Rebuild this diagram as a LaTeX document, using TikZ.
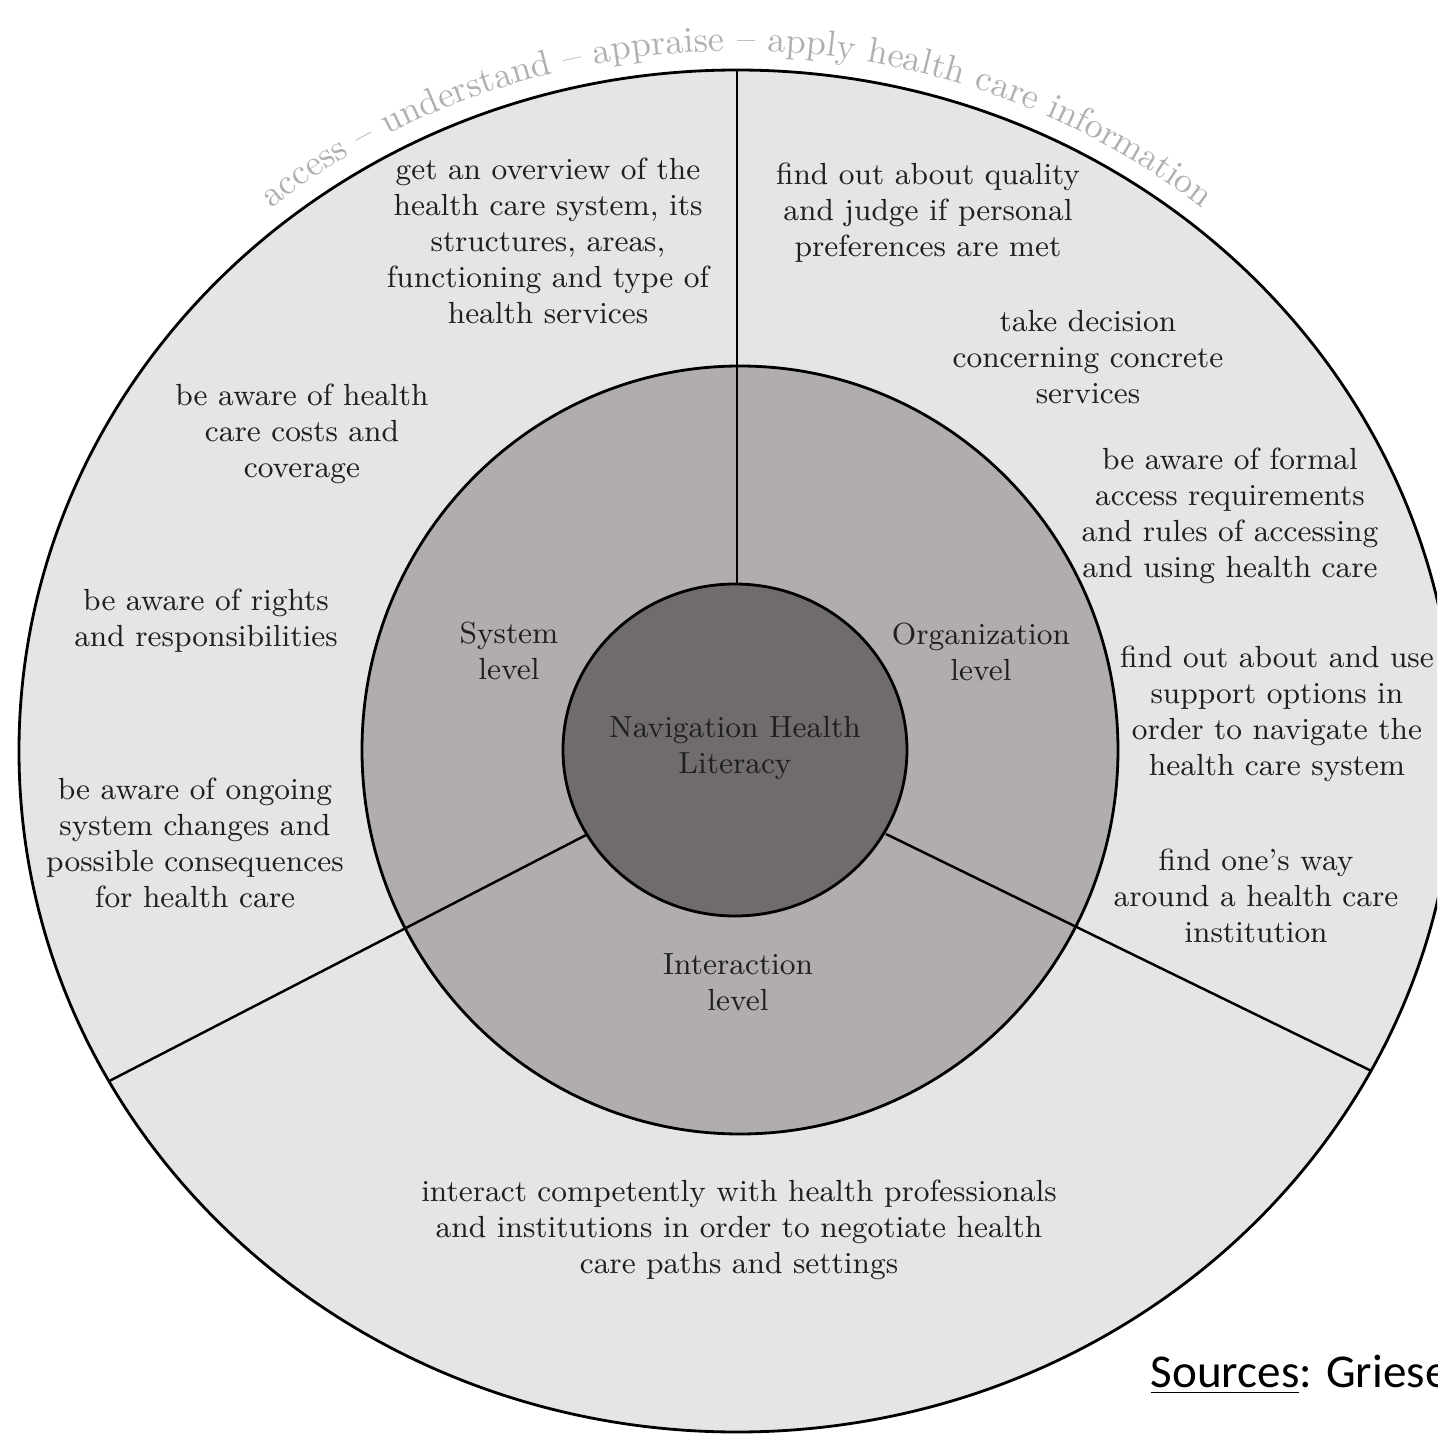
\documentclass[tikz,border=0pt]{standalone}
\usepackage{fontspec}
\newfontfamily\sourcefont{Carlito}
\usetikzlibrary{decorations.text}

\definecolor{ringlight}{RGB}{229,229,229}
\definecolor{ringmid}{RGB}{177,173,173}
\definecolor{ringcore}{RGB}{112,108,108}
\definecolor{arcgrey}{RGB}{176,176,176}

\begin{document}
\begin{tikzpicture}[
    ring/.style={draw, line width=0.8pt},
    divider/.style={line width=0.7pt},
    item/.style={align=center, inner sep=0pt, text=black!88, font=\fontsize{8.7}{10.25}\selectfont}
  ]
  \useasboundingbox (-7.37,-6.89) rectangle (7.00,7.51);
  \clip (-7.37,-6.89) rectangle (7.00,7.51);

  % Outer and middle rings
  \draw[ring, fill=ringlight] (0,0) ellipse [x radius=7.18, y radius=6.81];
  \draw[ring, fill=ringmid] (0.03,0.01) ellipse [x radius=3.78, y radius=3.84];

  % Sector borders (three levels)
  \coordinate (top-in) at (90:1.72 and 1.66);
  \coordinate (top-out) at (90:7.18 and 6.81);
  \coordinate (left-in) at (210:1.72 and 1.66);
  \coordinate (left-out) at (209:7.18 and 6.81);
  \coordinate (right-in) at (330:1.72 and 1.66);
  \coordinate (right-out) at (332:7.18 and 6.81);
  \draw[divider] (top-in) -- (top-out);
  \draw[divider] (left-in) -- (left-out);
  \draw[divider] (right-in) -- (right-out);

  % Core
  \draw[ring, fill=ringcore] (-0.02,0.01) ellipse [x radius=1.72, y radius=1.66];
  \node[item] (core) at (-0.02,0.03) {Navigation Health\\Literacy};

  % Level labels
  \node[item] (syslvl) at (-2.28,1.00) {System\\level};
  \node[item] (orglvl) at (2.44,0.99) {Organization\\level};
  \node[item] (intlvl) at (0.01,-2.31) {Interaction\\level};

  % Competences, system level
  \node[item] (overview) at (-1.89,5.10) {get an overview of the\\health care system, its\\structures, areas,\\functioning and type of\\health services};
  \node[item] (costs) at (-4.35,3.17) {be aware of health\\care costs and\\coverage};
  \node[item] (rights) at (-5.31,1.30) {be aware of rights\\and responsibilities};
  \node[item] (ongoing) at (-5.42,-0.92) {be aware of ongoing\\system changes and\\possible consequences\\for health care};

  % Competences, organization level
  \node[item] (quality) at (1.91,5.38) {find out about quality\\and judge if personal\\preferences are met};
  \node[item] (decision) at (3.51,3.94) {take decision\\concerning concrete\\services};
  \node[item] (formal) at (4.93,2.35) {be aware of formal\\access requirements\\and rules of accessing\\and using health care};
  \node[item] (support) at (5.40,0.37) {find out about and use\\support options in\\order to navigate the\\health care system};
  \node[item] (wayfind) at (5.19,-1.45) {find one's way\\around a health care\\institution};

  % Competences, interaction level
  \node[item] (interact) at (0.02,-4.79) {interact competently with health professionals\\and institutions in order to negotiate health\\care paths and settings};

  % Curved caption over the top
  \path[decorate, decoration={text along path, text align=center, text color=arcgrey,
      text={|\fontsize{10.3}{12}\selectfont|access – understand – appraise – apply health care information}}]
    (150:7.37 and 7.00) arc[start angle=150, end angle=30, x radius=7.37, y radius=7.00];

  \node[anchor=base west, inner sep=0pt, font=\sourcefont\fontsize{13.4}{16}\selectfont] (sources) at (4.13,-6.36) {\underline{Sources}: Griese};
\end{tikzpicture}
\end{document}
